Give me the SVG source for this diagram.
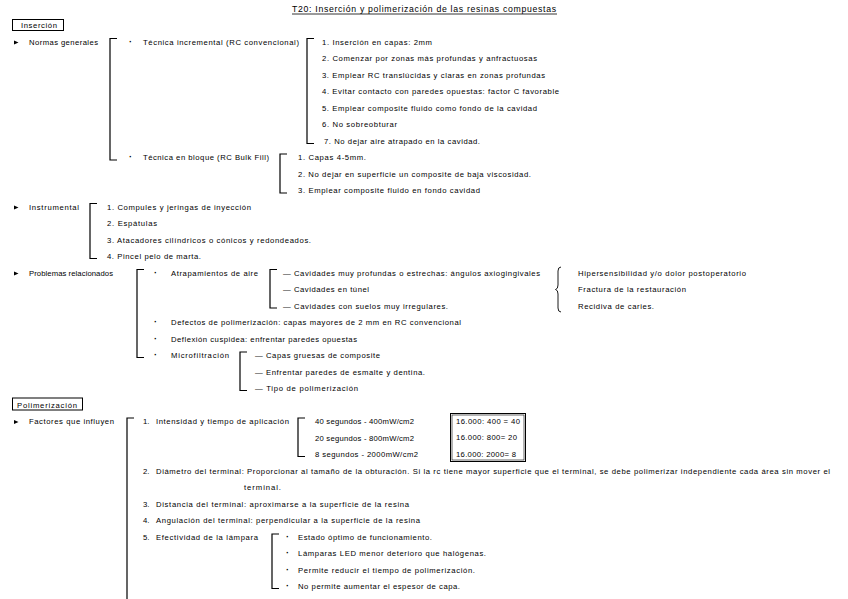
<svg xmlns="http://www.w3.org/2000/svg" width="848" height="599" viewBox="0 0 848 599">
<style>
text{font-family:"Liberation Sans",Arial,sans-serif;font-size:7.7px;fill:#000}
.ti{font-size:8.7px}
.b{font-size:9px;font-weight:bold}
.br{fill:none;stroke:#000;stroke-width:1.2}
.bx{fill:none;stroke:#000;stroke-width:1}
.ar{fill:#000}
</style>
<rect width="848" height="599" fill="#fff"/>
<g id="title">
<text class="ti" x="292" y="11.5" textLength="264" lengthAdjust="spacing">T20: Inserción y polimerización de las resinas compuestas</text>
<line x1="292" y1="14" x2="557" y2="14" stroke="#000" stroke-width="0.8"/>
</g>
<g id="sec-insercion">
<rect class="bx" x="12.5" y="19.5" width="51" height="11"/>
<text x="21" y="28" textLength="36" lengthAdjust="spacing">Inserción</text>
</g>
<g id="normas">
<polygon class="ar" points="14,40.5 18.5,42.5 14,44.5"/>
<text x="29" y="44.5" textLength="69" lengthAdjust="spacing">Normas generales</text>
</g>
<g id="incremental">
<text class="b" x="129" y="44.5">·</text>
<text x="143" y="44.5" textLength="156" lengthAdjust="spacing">Técnica incremental (RC convencional)</text>
<text x="322" y="44.5" textLength="110" lengthAdjust="spacing">1. Inserción en capas: 2mm</text>
<text x="322" y="61" textLength="215" lengthAdjust="spacing">2. Comenzar por zonas más profundas y anfractuosas</text>
<text x="322" y="77.5" textLength="223" lengthAdjust="spacing">3. Emplear RC translúcidas y claras en zonas profundas</text>
<text x="322" y="94" textLength="237" lengthAdjust="spacing">4. Evitar contacto con paredes opuestas: factor C favorable</text>
<text x="322" y="110.5" textLength="215" lengthAdjust="spacing">5. Emplear composite fluido como fondo de la cavidad</text>
<text x="322" y="127" textLength="75" lengthAdjust="spacing">6. No sobreobturar</text>
<text x="324" y="143.5" textLength="156" lengthAdjust="spacing">7. No dejar aire atrapado en la cavidad.</text>
</g>
<g id="bloque">
<text class="b" x="129" y="160">·</text>
<text x="143" y="160" textLength="126" lengthAdjust="spacing">Técnica en bloque (RC Bulk Fill)</text>
<text x="298" y="160" textLength="68" lengthAdjust="spacing">1. Capas 4-5mm.</text>
<text x="298" y="176.5" textLength="233" lengthAdjust="spacing">2. No dejar en superficie un composite de baja viscosidad.</text>
<text x="298" y="193" textLength="182" lengthAdjust="spacing">3. Emplear composite fluido en fondo cavidad</text>
</g>
<g id="instrumental">
<polygon class="ar" points="14,205.5 18.5,207.5 14,209.5"/>
<text x="29" y="209.5" textLength="50" lengthAdjust="spacing">Instrumental</text>
<text x="107" y="209.5" textLength="144" lengthAdjust="spacing">1. Compules y jeringas de inyección</text>
<text x="107" y="226" textLength="50" lengthAdjust="spacing">2. Espátulas</text>
<text x="107" y="242.5" textLength="204" lengthAdjust="spacing">3. Atacadores cilíndricos o cónicos y redondeados.</text>
<text x="107" y="259" textLength="94" lengthAdjust="spacing">4. Pincel pelo de marta.</text>
</g>
<g id="problemas">
<polygon class="ar" points="14,271.5 18.5,273.5 14,275.5"/>
<text x="29" y="275.5" textLength="84" lengthAdjust="spacing">Problemas relacionados</text>
</g>
<g id="atrapamientos">
<text class="b" x="154" y="275.5">·</text>
<text x="171" y="275.5" textLength="87" lengthAdjust="spacing">Atrapamientos de aire</text>
<text x="283" y="275.5" textLength="257" lengthAdjust="spacing">— Cavidades muy profundas o estrechas: ángulos axiogingivales</text>
<text x="283" y="292" textLength="86" lengthAdjust="spacing">— Cavidades en túnel</text>
<text x="283" y="308.5" textLength="165" lengthAdjust="spacing">— Cavidades con suelos muy irregulares.</text>
</g>
<g id="consecuencias">
<text x="578" y="275.5" textLength="168" lengthAdjust="spacing">Hipersensibilidad y/o dolor postoperatorio</text>
<text x="578" y="292" textLength="108" lengthAdjust="spacing">Fractura de la restauración</text>
<text x="578" y="308.5" textLength="76" lengthAdjust="spacing">Recidiva de caries.</text>
</g>
<g id="defectos">
<text class="b" x="154" y="325">·</text>
<text x="171" y="325" textLength="290" lengthAdjust="spacing">Defectos de polimerización: capas mayores de 2 mm en RC convencional</text>
</g>
<g id="deflexion">
<text class="b" x="154" y="341.5">·</text>
<text x="171" y="341.5" textLength="186" lengthAdjust="spacing">Deflexión cuspidea: enfrentar paredes opuestas</text>
</g>
<g id="microfiltracion">
<text class="b" x="154" y="358">·</text>
<text x="171" y="358" textLength="58" lengthAdjust="spacing">Microfiltración</text>
<text x="255" y="358" textLength="125" lengthAdjust="spacing">— Capas gruesas de composite</text>
<text x="255" y="374.5" textLength="170" lengthAdjust="spacing">— Enfrentar paredes de esmalte y dentina.</text>
<text x="255" y="391" textLength="103" lengthAdjust="spacing">— Tipo de polimerización</text>
</g>
<g id="sec-polimerizacion">
<rect class="bx" x="12.5" y="398" width="70" height="12"/>
<text x="17" y="407.5" textLength="60" lengthAdjust="spacing">Polimerización</text>
</g>
<g id="factores">
<polygon class="ar" points="14,420 18.5,422 14,424"/>
<text x="29" y="424" textLength="85" lengthAdjust="spacing">Factores que influyen</text>
</g>
<g id="intensidad">
<text x="143" y="424">1.</text>
<text x="156" y="424" textLength="133" lengthAdjust="spacing">Intensidad y tiempo de aplicación</text>
<text x="315" y="424" textLength="99" lengthAdjust="spacing">40 segundos - 400mW/cm2</text>
<text x="315" y="440.5" textLength="99" lengthAdjust="spacing">20 segundos - 800mW/cm2</text>
<text x="315" y="457" textLength="103" lengthAdjust="spacing">8 segundos - 2000mW/cm2</text>
</g>
<g id="calculo">
<rect class="bx" x="450.5" y="413.5" width="75" height="48"/>
<rect x="452" y="415" width="72" height="45" fill="none" stroke="#000" stroke-width="0.6"/>
<text x="456" y="423.5" textLength="64" lengthAdjust="spacing">16.000: 400 = 40</text>
<text x="456" y="440" textLength="61" lengthAdjust="spacing">16.000: 800= 20</text>
<text x="456" y="456.5" textLength="60" lengthAdjust="spacing">16.000: 2000= 8</text>
</g>
<g id="diametro">
<text x="143" y="473.5">2.</text>
<text x="156" y="473.5" textLength="674" lengthAdjust="spacing">Diámetro del terminal: Proporcionar al tamaño de la obturación. Si la rc tiene mayor superficie que el terminal, se debe polimerizar independiente cada área sin mover el</text>
<text x="244" y="490" textLength="37" lengthAdjust="spacing">terminal.</text>
</g>
<g id="distancia">
<text x="143" y="506.5">3.</text>
<text x="156" y="506.5" textLength="253" lengthAdjust="spacing">Distancia del terminal: aproximarse a la superficie de la resina</text>
</g>
<g id="angulacion">
<text x="143" y="523">4.</text>
<text x="156" y="523" textLength="264" lengthAdjust="spacing">Angulación del terminal: perpendicular a la superficie de la resina</text>
</g>
<g id="efectividad">
<text x="143" y="539.5">5.</text>
<text x="156" y="539.5" textLength="102" lengthAdjust="spacing">Efectividad de la lámpara</text>
<text class="b" x="286" y="539.5">·</text>
<text x="298" y="539.5" textLength="134" lengthAdjust="spacing">Estado óptimo de funcionamiento.</text>
<text class="b" x="286" y="556">·</text>
<text x="298" y="556" textLength="188" lengthAdjust="spacing">Lámparas LED menor deterioro que halógenas.</text>
<text class="b" x="286" y="572.5">·</text>
<text x="298" y="572.5" textLength="177" lengthAdjust="spacing">Permite reducir el tiempo de polimerización.</text>
<text class="b" x="286" y="589">·</text>
<text x="298" y="589" textLength="162" lengthAdjust="spacing">No permite aumentar el espesor de capa.</text>
</g>
<g id="connectors">
<path class="br" d="M117,38.5 H110 V160 H117"/>
<path class="br" d="M314,38.5 H307 V143.5 H314"/>
<path class="br" d="M287,154 H280 V193 H287"/>
<path class="br" d="M97,203.5 H90 V258.5 H97"/>
<path class="br" d="M144,269.5 H137 V357.5 H144"/>
<path class="br" d="M277,269.5 H270 V308 H277"/>
<path class="br" d="M247,352 H240 V390.5 H247"/>
<path class="br" d="M134,418 H127 V600"/>
<path class="br" d="M305,418 H298 V456.5 H305"/>
<path class="br" d="M279,534 H272 V588.5 H279"/>
<path fill="none" stroke="#000" stroke-width="0.9" d="M561,267 Q558,267 558,271 V285 Q558,289 555.5,289.5 Q558,290 558,294 V308 Q558,312 561,312"/>
</g>
</svg>
